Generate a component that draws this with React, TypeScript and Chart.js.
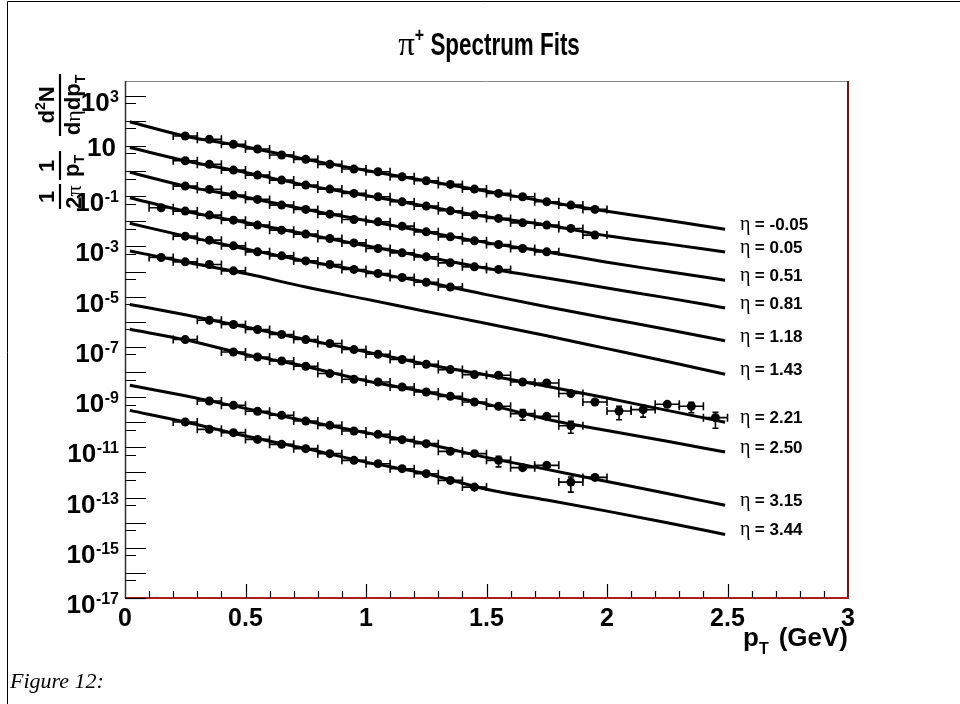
import React, { useEffect, useRef } from 'react';
import { Chart, registerables } from 'chart.js';

Chart.register(...registerables);

const SANS = '"Liberation Sans", Arial, Helvetica, sans-serif';
const SERIF = '"Liberation Serif", "Times New Roman", serif';

// ---------- categories / tick labels ----------
const etaLabels = ['-0.05', '0.05', '0.51', '0.81', '1.18', '1.43', '2.21', '2.50', '3.15', '3.44'];
const yLabelExponents = [3, 1, -1, -3, -5, -7, -9, -11, -13, -15, -17];
const Y_MIN = 1e-17;
const Y_MAX = 3850;

// ---------- fit curves (sampled along pT) ----------
const fitPT = [0.02, 0.25, 0.5, 0.75, 1.0, 1.25, 1.5, 1.75, 2.0, 2.25, 2.49];
const fitEtaM005 = [91.2, 24.5, 9.33, 2.92, 1.06, 0.409, 0.158, 0.0596, 0.0251, 0.011, 0.00479];
const fitEta005 = [8.71, 2.57, 0.871, 0.275, 0.107, 0.0398, 0.0151, 0.00708, 0.00263, 0.00126, 0.000603];
const fitEta051 = [0.891, 0.251, 0.0912, 0.0295, 0.0107, 0.0038, 0.00141, 0.000603, 0.000234, 0.0001, 4.47e-5];
const fitEta081 = [0.0871, 0.0251, 0.00891, 0.00309, 0.00107, 0.00038, 0.000135, 5.5e-5, 2.19e-5, 8.91e-6, 3.55e-6];
const fitEta118 = [0.00832, 0.00257, 0.000794, 0.000263, 1.0e-4, 3.72e-5, 1.2e-5, 3.98e-6, 1.38e-6, 4.9e-7, 1.74e-7];
const fitEta143 = [6.61e-4, 2.4e-4, 8.32e-5, 2.4e-5, 7.94e-6, 2.57e-6, 8.51e-7, 2.75e-7, 8.51e-8, 2.63e-8, 8.13e-9];
const fitEta221 = [4.9e-6, 1.91e-6, 6.17e-7, 1.95e-7, 6.31e-8, 2.04e-8, 7.59e-9, 2.69e-9, 9.12e-10, 2.95e-10, 1.0e-10];
const fitEta250 = [5.01e-7, 1.91e-7, 5.01e-8, 1.66e-8, 4.47e-9, 1.58e-9, 5.25e-10, 1.32e-10, 4.68e-11, 1.74e-11, 6.46e-12];
const fitEta315 = [2.95e-9, 1.12e-9, 3.55e-10, 1.12e-10, 3.8e-11, 1.38e-11, 3.98e-12, 1.32e-12, 4.37e-13, 1.45e-13, 4.9e-14];
const fitEta344 = [2.95e-10, 1.02e-10, 2.82e-11, 8.91e-12, 2.57e-12, 8.91e-13, 2.14e-13, 7.94e-14, 2.88e-14, 1.0e-14, 3.39e-15];

// ---------- measured points ----------
const ptEtaM005 = [0.25, 0.35, 0.45, 0.55, 0.65, 0.75, 0.85, 0.95, 1.05, 1.15, 1.25, 1.35, 1.45, 1.55, 1.65, 1.75, 1.85, 1.95];
const yEtaM005 = [24.8, 18.3, 11.6, 7.52, 4.34, 2.92, 1.85, 1.2, 0.935, 0.592, 0.409, 0.294, 0.191, 0.129, 0.0944, 0.0596, 0.0441, 0.0297];

const ptEta005 = [0.25, 0.35, 0.45, 0.55, 0.65, 0.75, 0.85, 0.95, 1.05, 1.15, 1.25, 1.35, 1.45, 1.55, 1.65, 1.75, 1.85, 1.95];
const yEta005 = [2.56, 1.85, 1.09, 0.69, 0.437, 0.276, 0.191, 0.129, 0.0944, 0.0596, 0.0402, 0.0261, 0.0176, 0.013, 0.00867, 0.00703, 0.00519, 0.00281];

const ptEta051 = [0.25, 0.35, 0.45, 0.55, 0.65, 0.75, 0.85, 0.95, 1.05, 1.15, 1.25, 1.35, 1.45, 1.55, 1.65, 1.75];
const yEta051 = [0.252, 0.186, 0.11, 0.0743, 0.044, 0.0296, 0.0192, 0.0118, 0.00951, 0.00641, 0.0038, 0.0024, 0.00166, 0.00119, 0.000828, 0.000605];

const ptEta081 = [0.15, 0.25, 0.35, 0.45, 0.55, 0.65, 0.75, 0.85, 0.95, 1.05, 1.15, 1.25, 1.35, 1.45, 1.55];
const yEta081 = [0.0344, 0.0254, 0.0176, 0.0111, 0.00703, 0.00444, 0.00308, 0.00207, 0.00138, 0.000828, 0.000553, 0.000383, 0.000221, 0.000153, 0.000121];

const ptEta118 = [0.25, 0.35, 0.45, 0.55, 0.65, 0.75, 0.85, 0.95, 1.05, 1.15, 1.25, 1.35];
const yEta118 = [0.00256, 0.00177, 0.00105, 0.000605, 0.00042, 0.000265, 0.000191, 0.000121, 8.34e-5, 5.78e-5, 3.72e-5, 2.4e-5];

const ptEta143 = [0.15, 0.25, 0.35, 0.45];
const yEta143 = [3.62e-4, 2.42e-4, 1.91e-4, 1.06e-4];

const ptEta221 = [0.35, 0.45, 0.55, 0.65, 0.75, 0.85, 0.95, 1.05, 1.15, 1.25, 1.35, 1.45, 1.55, 1.65, 1.75, 1.85, 1.95, 2.05, 2.15, 2.25, 2.35, 2.45];
const yEta221 = [1.15e-6, 7.74e-7, 4.9e-7, 3.09e-7, 1.95e-7, 1.36e-7, 7.8e-8, 5.07e-8, 3.12e-8, 2.02e-8, 1.24e-8, 7.87e-9, 7.38e-9, 3.99e-9, 3.64e-9, 1.38e-9, 6.37e-10, 2.79e-10, 3.17e-10, 5.15e-10, 4.3e-10, 1.52e-10];
const errEta221 = [0.05, 0.05, 0.05, 0.05, 0.05, 0.05, 0.05, 0.05, 0.05, 0.05, 0.05, 0.05, 0.05, 0.12, 0.2, 0.25, 0.3, 0.55, 0.5, 0.15, 0.45, 0.62];

const ptEta250 = [0.25, 0.45, 0.55, 0.65, 0.75, 0.85, 0.95, 1.05, 1.15, 1.25, 1.35, 1.45, 1.55, 1.65, 1.75, 1.85];
const yEta250 = [1.95e-7, 6.27e-8, 3.96e-8, 2.74e-8, 1.69e-8, 8.63e-9, 5.12e-9, 3.99e-9, 2.52e-9, 1.6e-9, 1.07e-9, 6.37e-10, 4.3e-10, 2.2e-10, 1.71e-10, 7.24e-11];
const errEta250 = [0.05, 0.05, 0.05, 0.05, 0.05, 0.05, 0.05, 0.05, 0.05, 0.05, 0.05, 0.15, 0.2, 0.45, 0.2, 0.5];

const ptEta315 = [0.35, 0.45, 0.55, 0.65, 0.75, 0.85, 0.95, 1.05, 1.15, 1.25, 1.35, 1.45, 1.55, 1.65, 1.75, 1.85, 1.95];
const yEta315 = [6.98e-10, 4.7e-10, 2.71e-10, 1.88e-10, 1.11e-10, 7.5e-11, 4.45e-11, 3.29e-11, 2.02e-11, 1.4e-11, 6.9e-12, 5.58e-12, 3.02e-12, 1.55e-12, 1.91e-12, 4.12e-13, 6.35e-13];
const errEta315 = [0.05, 0.05, 0.05, 0.05, 0.05, 0.05, 0.05, 0.05, 0.05, 0.05, 0.2, 0.15, 0.45, 0.3, 0.15, 0.6, 0.3];

const ptEta344 = [0.25, 0.35, 0.45, 0.55, 0.65, 0.75, 0.85, 0.95, 1.05, 1.15, 1.25, 1.35, 1.45];
const yEta344 = [1.02e-10, 5.2e-11, 3.84e-11, 2.07e-11, 1.31e-11, 8.85e-12, 5.58e-12, 3.02e-12, 2.23e-12, 1.41e-12, 8.91e-13, 4.82e-13, 2.61e-13];
const errEta344 = [0.05, 0.05, 0.05, 0.05, 0.05, 0.05, 0.05, 0.05, 0.05, 0.05, 0.05, 0.15, 0.35];

const BIN_HALF_WIDTH = 0.05;
const DEFAULT_REL_ERR = 0.05;

type Series = { eta: string; pt: number[]; y: number[]; err?: number[]; fit: number[] };

const SERIES: Series[] = [
  { eta: etaLabels[0], pt: ptEtaM005, y: yEtaM005, fit: fitEtaM005 },
  { eta: etaLabels[1], pt: ptEta005, y: yEta005, fit: fitEta005 },
  { eta: etaLabels[2], pt: ptEta051, y: yEta051, fit: fitEta051 },
  { eta: etaLabels[3], pt: ptEta081, y: yEta081, fit: fitEta081 },
  { eta: etaLabels[4], pt: ptEta118, y: yEta118, fit: fitEta118 },
  { eta: etaLabels[5], pt: ptEta143, y: yEta143, fit: fitEta143 },
  { eta: etaLabels[6], pt: ptEta221, y: yEta221, err: errEta221, fit: fitEta221 },
  { eta: etaLabels[7], pt: ptEta250, y: yEta250, err: errEta250, fit: fitEta250 },
  { eta: etaLabels[8], pt: ptEta315, y: yEta315, err: errEta315, fit: fitEta315 },
  { eta: etaLabels[9], pt: ptEta344, y: yEta344, err: errEta344, fit: fitEta344 },
];

type Part = { t: string; f: string; dy?: number; sx?: number };

function drawRun(ctx: CanvasRenderingContext2D, parts: Part[], centerX: number, baseY: number) {
  let w = 0;
  parts.forEach((p) => {
    ctx.font = p.f;
    w += ctx.measureText(p.t).width * (p.sx || 1);
  });
  let x = centerX - w / 2;
  ctx.textAlign = 'left';
  ctx.textBaseline = 'alphabetic';
  parts.forEach((p) => {
    const sx = p.sx || 1;
    ctx.font = p.f;
    ctx.save();
    ctx.translate(x, baseY + (p.dy || 0));
    ctx.scale(sx, 1);
    ctx.fillText(p.t, 0, 0);
    ctx.restore();
    x += ctx.measureText(p.t).width * sx;
  });
}

function drawYTitle(ctx: CanvasRenderingContext2D) {
  ctx.save();
  ctx.translate(0, 210);
  ctx.rotate(-Math.PI / 2);
  ctx.fillStyle = '#000';
  ctx.strokeStyle = '#000';
  ctx.lineWidth = 2.2;
  const B = `bold 22px ${SANS}`;
  const Bs = `bold 14px ${SANS}`;
  const G = `22px ${SERIF}`;
  const bar = (u0: number, u1: number, v: number) => {
    ctx.beginPath();
    ctx.moveTo(u0, v);
    ctx.lineTo(u1, v);
    ctx.stroke();
  };
  // 1 / (2 pi)
  drawRun(ctx, [{ t: '1', f: B }], 13, 54);
  bar(1, 26, 60);
  drawRun(ctx, [{ t: '2', f: B }, { t: 'π', f: G }], 13, 81);
  // 1 / pT
  drawRun(ctx, [{ t: '1', f: B }], 44, 54);
  bar(30, 59, 60);
  drawRun(ctx, [{ t: 'p', f: B }, { t: 'T', f: Bs, dy: 5 }], 44, 79);
  // d2N / (deta dpT)
  drawRun(ctx, [{ t: 'd', f: B }, { t: '2', f: Bs, dy: -9 }, { t: 'N', f: B }], 105, 54);
  bar(74, 136, 60);
  drawRun(
    ctx,
    [
      { t: 'd', f: B },
      { t: 'η', f: G },
      { t: 'd', f: B },
      { t: 'p', f: B },
      { t: 'T', f: Bs, dy: 5 },
    ],
    105,
    80
  );
  ctx.restore();
}

const decorPlugin = {
  id: 'decor',
  beforeDraw(chart: any) {
    const { ctx, width, height } = chart;
    ctx.save();
    ctx.fillStyle = '#fff';
    ctx.fillRect(0, 0, width, height);
    ctx.strokeStyle = '#000';
    ctx.lineWidth = 1;
    ctx.beginPath();
    ctx.moveTo(7.5, height);
    ctx.lineTo(7.5, 1.5);
    ctx.lineTo(width, 1.5);
    ctx.stroke();
    ctx.restore();
  },
  beforeDatasetsDraw(chart: any) {
    const { ctx, chartArea: a } = chart;
    const xs = chart.scales.x;
    const ys = chart.scales.y;
    ctx.save();
    ctx.beginPath();
    ctx.rect(a.left, a.top, a.right - a.left, a.bottom - a.top);
    ctx.clip();
    ctx.strokeStyle = '#000';
    ctx.lineWidth = 1.6;
    chart.data.datasets.forEach((ds: any) => {
      if (!ds.isPoints) return;
      ds.data.forEach((p: any, i: number) => {
        const px = xs.getPixelForValue(p.x);
        const py = ys.getPixelForValue(p.y);
        const xl = xs.getPixelForValue(p.x - BIN_HALF_WIDTH);
        const xr = xs.getPixelForValue(p.x + BIN_HALF_WIDTH);
        const e = ds.relErr ? ds.relErr[i] : DEFAULT_REL_ERR;
        const yt = ys.getPixelForValue(p.y * (1 + e));
        const yb = ys.getPixelForValue(p.y * (1 - e));
        ctx.beginPath();
        ctx.moveTo(xl, py);
        ctx.lineTo(xr, py);
        ctx.moveTo(xl, py - 4);
        ctx.lineTo(xl, py + 4);
        ctx.moveTo(xr, py - 4);
        ctx.lineTo(xr, py + 4);
        ctx.moveTo(px, yt);
        ctx.lineTo(px, yb);
        if (yb - yt > 9) {
          ctx.moveTo(px - 3, yt);
          ctx.lineTo(px + 3, yt);
          ctx.moveTo(px - 3, yb);
          ctx.lineTo(px + 3, yb);
        }
        ctx.stroke();
      });
    });
    ctx.restore();
  },
  afterDraw(chart: any) {
    const { ctx, chartArea: a } = chart;
    const xs = chart.scales.x;
    const ys = chart.scales.y;
    ctx.save();
    // frame
    ctx.lineWidth = 1;
    ctx.strokeStyle = '#8a8a8a';
    ctx.beginPath();
    ctx.moveTo(a.left, a.top + 0.5);
    ctx.lineTo(a.right, a.top + 0.5);
    ctx.stroke();
    ctx.lineWidth = 2;
    ctx.strokeStyle = '#7a1414';
    ctx.beginPath();
    ctx.moveTo(a.right, a.top);
    ctx.lineTo(a.right, a.bottom);
    ctx.stroke();
    ctx.strokeStyle = '#b01c1c';
    ctx.beginPath();
    ctx.moveTo(a.left, a.bottom);
    ctx.lineTo(a.right + 1, a.bottom);
    ctx.stroke();
    ctx.lineWidth = 1.5;
    ctx.strokeStyle = '#333';
    ctx.beginPath();
    ctx.moveTo(a.left + 0.5, a.top);
    ctx.lineTo(a.left + 0.5, a.bottom);
    ctx.stroke();

    // x ticks (inside)
    ctx.strokeStyle = '#000';
    ctx.lineWidth = 1.2;
    for (let k = 1; k < 30; k++) {
      const v = k / 10;
      const px = Math.round(xs.getPixelForValue(v)) + 0.5;
      const len = k % 5 === 0 ? 14 : 7;
      ctx.beginPath();
      ctx.moveTo(px, a.bottom);
      ctx.lineTo(px, a.bottom - len);
      ctx.stroke();
    }

    // y ticks (inside) and labels
    ctx.fillStyle = '#000';
    ys.ticks.forEach((t: any) => {
      const e = Math.round(Math.log10(t.value));
      const py = Math.round(ys.getPixelForValue(t.value)) + 0.5;
      ctx.lineWidth = 1.2;
      ctx.beginPath();
      ctx.moveTo(a.left, py);
      ctx.lineTo(a.left + 21, py);
      const half = t.value / 2;
      if (half >= Y_MIN) {
        const ph = Math.round(ys.getPixelForValue(half)) + 0.5;
        ctx.moveTo(a.left, ph);
        ctx.lineTo(a.left + 11, ph);
      }
      ctx.stroke();
      if (yLabelExponents.indexOf(e) >= 0) {
        const right = a.left - 6;
        if (e === 1) {
          ctx.font = `bold 26px ${SANS}`;
          ctx.textAlign = 'right';
          ctx.textBaseline = 'alphabetic';
          ctx.fillText('10', right - 3, py + 9);
        } else {
          const sup = String(e);
          ctx.font = `bold 16px ${SANS}`;
          const w = ctx.measureText(sup).width;
          ctx.textAlign = 'left';
          ctx.textBaseline = 'alphabetic';
          ctx.fillText(sup, right - w, py + 5);
          ctx.font = `bold 26px ${SANS}`;
          ctx.textAlign = 'right';
          ctx.fillText('10', right - w - 0.5, py + 14);
        }
      }
    });

    // eta labels at the end of each fit curve
    chart.data.datasets.forEach((ds: any) => {
      if (!ds.isFit) return;
      const last = ds.data[ds.data.length - 1];
      const py = ys.getPixelForValue(last.y);
      const x0 = xs.getPixelForValue(last.x) + 15;
      ctx.textAlign = 'left';
      ctx.textBaseline = 'alphabetic';
      ctx.font = `20px ${SERIF}`;
      ctx.fillText('η', x0, py + 1);
      ctx.font = `bold 17px ${SANS}`;
      ctx.fillText(` = ${ds.eta}`, x0 + 10, py + 1);
    });

    // title
    ctx.fillStyle = '#000';
    drawRun(
      ctx,
      [
        { t: 'π', f: `33px ${SERIF}` },
        { t: '+', f: `bold 20px ${SANS}`, dy: -13, sx: 0.8 },
        { t: ' Spectrum Fits', f: `bold 32px ${SANS}`, sx: 0.7 },
      ],
      489,
      55
    );

    // x title
    const fBig = `bold 26px ${SANS}`;
    const fSub = `bold 16px ${SANS}`;
    ctx.font = fBig;
    const wGeV = ctx.measureText('(GeV)').width;
    const wp = ctx.measureText('p').width;
    ctx.font = fSub;
    const wT = ctx.measureText('T').width;
    const xEnd = a.right;
    const gap = 10;
    ctx.textAlign = 'left';
    ctx.font = fBig;
    ctx.fillText('(GeV)', xEnd - wGeV, 646);
    ctx.font = fSub;
    ctx.fillText('T', xEnd - wGeV - gap - wT, 654);
    ctx.font = fBig;
    ctx.fillText('p', xEnd - wGeV - gap - wT - wp, 646);

    drawYTitle(ctx);
    ctx.restore();
  },
};

export default function App() {
  const canvasRef = useRef<HTMLCanvasElement | null>(null);

  useEffect(() => {
    if (!canvasRef.current) return;
    const datasets: any[] = [];
    SERIES.forEach((s) => {
      datasets.push({
        type: 'scatter',
        label: `data η = ${s.eta}`,
        isPoints: true,
        relErr: s.err,
        data: s.pt.map((x, i) => ({ x, y: s.y[i] })),
        pointRadius: 4.5,
        pointHoverRadius: 4.5,
        pointBackgroundColor: '#000',
        pointBorderColor: '#000',
        pointBorderWidth: 0,
        showLine: false,
        order: 0,
      });
    });
    SERIES.forEach((s) => {
      datasets.push({
        type: 'line',
        label: `fit η = ${s.eta}`,
        isFit: true,
        eta: s.eta,
        data: fitPT.map((x, i) => ({ x, y: s.fit[i] })),
        borderColor: '#000',
        borderWidth: 3,
        pointRadius: 0,
        fill: false,
        cubicInterpolationMode: 'monotone',
        order: 1,
      });
    });

    const chart = new Chart(canvasRef.current, {
      type: 'scatter',
      data: { datasets },
      options: {
        animation: false,
        responsive: false,
        devicePixelRatio: 1,
        layout: { padding: { left: 0, right: 112, top: 81, bottom: 0 } },
        plugins: { legend: { display: false }, tooltip: { enabled: false }, title: { display: false } },
        scales: {
          x: {
            type: 'linear',
            min: 0,
            max: 3,
            grid: { display: false, drawTicks: false },
            border: { display: false },
            ticks: {
              stepSize: 0.5,
              autoSkip: false,
              maxRotation: 0,
              padding: 6,
              color: '#000',
              font: { family: 'Liberation Sans', size: 25, weight: 'bold' },
              callback: (v: any) => String(Number(v)),
            },
            afterFit: (scale: any) => {
              scale.height = 106;
            },
          },
          y: {
            type: 'logarithmic',
            min: Y_MIN,
            max: Y_MAX,
            grid: { display: false, drawTicks: false },
            border: { display: false },
            ticks: { display: false },
            afterBuildTicks: (scale: any) => {
              const t: any[] = [];
              for (let e = -17; e <= 3; e++) t.push({ value: Math.pow(10, e) });
              scale.ticks = t;
            },
            afterFit: (scale: any) => {
              scale.width = 125;
            },
          },
        },
      } as any,
      plugins: [decorPlugin],
    });
    return () => chart.destroy();
  }, []);

  return (
    <div
      style={{
        position: 'fixed',
        left: 0,
        top: 0,
        width: 960,
        height: 704,
        background: '#fff',
        overflow: 'hidden',
      }}
    >
      <canvas ref={canvasRef} width={960} height={704} style={{ display: 'block' }} />
      <div
        style={{
          position: 'absolute',
          left: 10,
          top: 670,
          font: `italic 22px ${SERIF}`,
          lineHeight: '22px',
          color: '#000',
        }}
      >
        Figure 12:
      </div>
    </div>
  );
}
